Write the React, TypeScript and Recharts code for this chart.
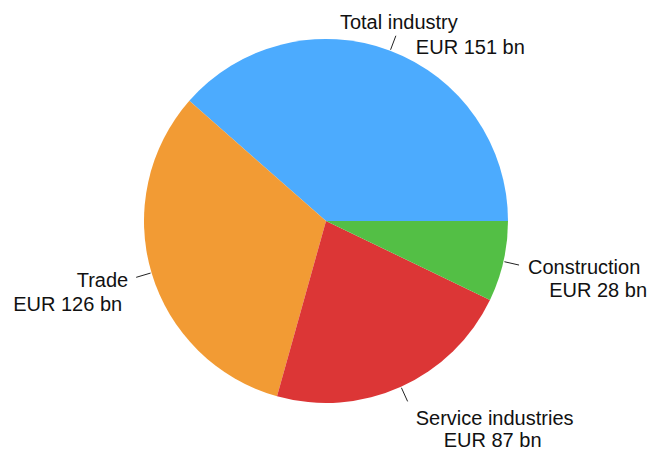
import React from 'react';
import { PieChart, Pie, Cell } from 'recharts';

const categories = ['Total industry', 'Trade', 'Service industries', 'Construction'];
const values = [151, 126, 87, 28];
const valueLabels = values.map((v) => `EUR ${v} bn`);
const colors = ['#4CABFE', '#F29B34', '#DC3636', '#53BF45'];

// label text placement relative to the end of each connector line
const labelLayout = [
  { a1: 'middle', dx1: 3, dy1: -7, a2: 'start', dx2: 20, dy2: 18 },
  { a1: 'end', dx1: -8, dy1: 10, a2: 'end', dx2: -14, dy2: 34 },
  { a1: 'middle', dx1: 87, dy1: 24, a2: 'middle', dx2: 85, dy2: 46 },
  { a1: 'start', dx1: 9, dy1: 9, a2: 'end', dx2: 128, dy2: 32 },
];

const data = categories.map((name, i) => ({ name, value: values[i], sub: valueLabels[i] }));

const RAD = Math.PI / 180;

const renderLabel = (props: any) => {
  const { cx, cy, midAngle, outerRadius, index } = props;
  const cos = Math.cos(-midAngle * RAD);
  const sin = Math.sin(-midAngle * RAD);
  const sx = cx + (outerRadius + 1) * cos;
  const sy = cy + (outerRadius + 1) * sin;
  const ex = cx + (outerRadius + 16) * cos;
  const ey = cy + (outerRadius + 16) * sin;
  const L = labelLayout[index];
  const textStyle = { fontFamily: '"Liberation Sans", Arial, sans-serif', fontSize: 20 };
  return (
    <g key={`lbl-${index}`}>
      <line x1={sx} y1={sy} x2={ex} y2={ey} stroke="#222" strokeWidth={1} />
      <text x={ex + L.dx1} y={ey + L.dy1} textAnchor={L.a1} fill="#111" style={textStyle}>
        {categories[index]}
      </text>
      <text x={ex + L.dx2} y={ey + L.dy2} textAnchor={L.a2} fill="#111" style={textStyle}>
        {valueLabels[index]}
      </text>
    </g>
  );
};

export default function App() {
  return (
    <div style={{ position: 'absolute', left: 0, top: 0, width: 648, height: 450, background: '#fff' }}>
      <PieChart width={648} height={450} margin={{ top: 0, right: 0, bottom: 0, left: 0 }}>
        <Pie
          data={data}
          dataKey="value"
          nameKey="name"
          cx={326}
          cy={221}
          outerRadius={182}
          startAngle={0}
          endAngle={360}
          stroke="none"
          label={renderLabel}
          labelLine={false}
          isAnimationActive={false}
        >
          {data.map((d, i) => (
            <Cell key={d.name} fill={colors[i]} />
          ))}
        </Pie>
      </PieChart>
    </div>
  );
}
